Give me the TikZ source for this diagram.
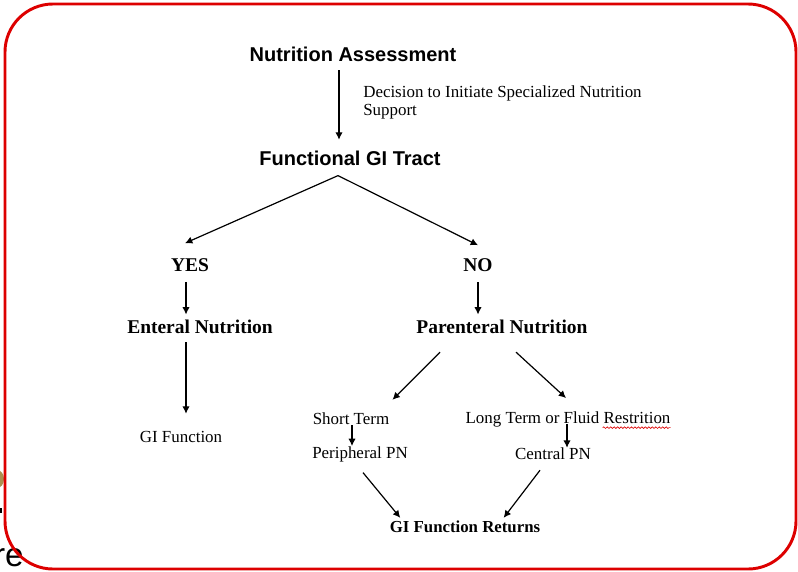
\documentclass[tikz,border=0pt]{standalone}
\usepackage{fontspec}
\setmainfont{Liberation Serif}
\newfontfamily\headsans{Liberation Sans}
\usetikzlibrary{arrows.meta,decorations.pathmorphing}

\definecolor{frame}{RGB}{221,0,0}
\definecolor{olive}{RGB}{170,145,80}

\begin{document}
\begin{tikzpicture}[x=0.75pt,y=-0.75pt,>={Latex[length=5.5pt,width=5.5pt]},
  every node/.style={inner sep=0pt},
  title/.style={font=\headsans\bfseries\fontsize{15}{18}\selectfont},
  big/.style={font=\bfseries\fontsize{14.6}{17}\selectfont},
  txt/.style={font=\fontsize{12.7}{14}\selectfont},
  boldtxt/.style={font=\bfseries\fontsize{12.6}{14}\selectfont},
  link/.style={->,line width=0.9pt},
  spell/.style={decorate,decoration={snake,amplitude=0.6pt,segment length=2.6pt},frame,line width=0.5pt}]
\useasboundingbox (0,0) rectangle (798,571);

% bits of the slide behind
\fill[olive] (-3,479) ellipse (7 and 9);
\fill (0,508) rectangle (2,513);
\node[anchor=base east,font=\headsans\fontsize{25}{28}\selectfont] (re) at (24,566) {re};

% frame
\draw[frame,line width=2.2pt,rounded corners=36pt] (5,4) rectangle (796,569);

% nodes
\node[title] (na) at (353,54) {Nutrition Assessment};
\node[title] (fgt) at (350,158) {Functional GI Tract};
\node[txt,anchor=north west,align=left] (dec) at (363,85) {Decision to Initiate Specialized Nutrition\\Support};
\node[big] (yes) at (190,265) {YES};
\node[big] (no) at (478,265) {NO};
\node[big] (en) at (200,327) {Enteral Nutrition};
\node[big] (pn) at (502,327) {Parenteral Nutrition};
\node[txt] (gif) at (181,437) {GI Function};
\node[txt] (st) at (351,419) {Short Term};
\node[txt] (lt) at (568,419) {Long Term or Fluid Restrition};
\node[txt] (ppn) at (360,454) {Peripheral PN};
\node[txt] (cpn) at (553,454) {Central PN};
\node[boldtxt] (gifr) at (465,527) {GI Function Returns};

% connectors
\draw[link,shorten <=6.5pt,shorten >=8pt] ([xshift=-10.5pt]na.south) -- ([xshift=-10.5pt]na.south |- fgt.north);
\draw[link] ([xshift=-9pt,yshift=-7.5pt]fgt.south) -- ([xshift=-3.75pt,yshift=11.25pt]yes.north);
\draw[link] ([xshift=-9pt,yshift=-7.5pt]fgt.south) -- ([yshift=9.75pt]no.north);
\draw[link,shorten <=7.5pt,shorten >=4pt] ([xshift=-3pt]yes.south) -- ([xshift=-3pt]yes.south |- en.north);
\draw[link,shorten <=6pt,shorten >=13pt] ([xshift=-10.5pt]en.south) -- ([xshift=-10.5pt]en.south |- gif.north);
\draw[link,shorten <=8pt,shorten >=4pt] (no.south) -- (no.south |- pn.north);
\draw[link] ([xshift=-46.5pt,yshift=-13.5pt]pn.south) -- ([xshift=2.25pt,yshift=9.75pt]st.north east);
\draw[link] ([xshift=10.5pt,yshift=-13.5pt]pn.south) -- ([xshift=-1.5pt,yshift=9.75pt]lt.north);
\draw[link] ([xshift=0.75pt]st.south) -- ([xshift=0.75pt]st.south |- ppn.north);
\draw[link,shorten <=-2pt] ([xshift=-0.75pt]lt.south) -- ([xshift=-0.75pt]lt.south |- cpn.north);
\draw[link] ([xshift=2.25pt,yshift=-8pt]ppn.south) -- ([xshift=8pt,yshift=2.25pt]gifr.north west);
\draw[link] ([xshift=-9.75pt,yshift=-7.5pt]cpn.south) -- ([xshift=29pt,yshift=2.25pt]gifr.north);

% spelling mark
\draw[spell] ([xshift=-51pt,yshift=-0.5pt]lt.south east) -- ([yshift=-0.5pt]lt.south east);
\end{tikzpicture}
\end{document}
